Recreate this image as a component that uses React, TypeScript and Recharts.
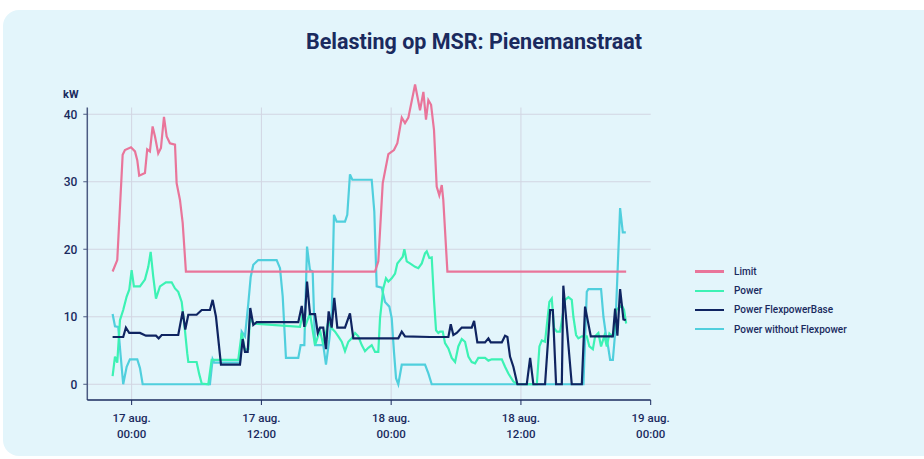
import React from 'react';
import { LineChart, Line, XAxis, YAxis, ReferenceLine } from 'recharts';

// time in hours from 17 aug. 00:00
const xTicks = [0, 12, 24, 36, 48];
const xTickDates = ['17 aug.', '17 aug.', '18 aug.', '18 aug.', '19 aug.'];
const xTickTimes = ['00:00', '12:00', '00:00', '12:00', '00:00'];
const yTicks = [0, 10, 20, 30, 40];

const limitT = [-1.76, -1.33, -0.83, -0.62, -0.06, 0.31, 0.52, 0.7, 1.23, 1.44, 1.69, 1.94, 2.16, 2.46, 2.71, 2.99, 3.24, 3.54, 4.01, 4.16, 4.47, 4.72, 5.02, 22.51, 22.81, 23.22, 23.74, 24.26, 24.57, 24.98, 25.28, 25.59, 26.21, 26.67, 26.98, 27.22, 27.44, 27.69, 27.96, 28.21, 28.45, 28.68, 28.82, 29.2, 45.73];
const limitKw = [16.7, 18.4, 34.0, 34.7, 35.1, 34.5, 33.2, 30.9, 31.3, 34.8, 34.5, 38.2, 36.7, 34.2, 35.0, 39.6, 36.7, 35.7, 35.5, 29.8, 27.3, 23.9, 16.7, 16.7, 18.2, 29.8, 34.1, 34.7, 35.7, 39.5, 38.7, 39.5, 44.4, 40.6, 43.3, 39.2, 42.1, 41.4, 37.7, 29.3, 28.0, 29.5, 27.3, 16.7, 16.7];

const powerT = [-1.76, -1.54, -1.33, -1.08, -0.78, -0.46, -0.22, 0, 0.21, 0.77, 1.23, 1.54, 1.76, 2.0, 2.25, 2.62, 3.17, 3.7, 4.01, 4.31, 4.63, 4.93, 5.14, 5.24, 6.01, 6.25, 6.48, 7.09, 7.4, 9.86, 10.18, 10.48, 10.79, 10.94, 11.25, 15.57, 15.82, 16.03, 16.49, 16.96, 17.42, 17.72, 18.19, 18.5, 18.81, 19.11, 19.43, 19.73, 20.04, 20.35, 20.66, 20.96, 21.28, 21.58, 21.89, 22.2, 22.51, 22.81, 22.97, 23.27, 23.52, 23.74, 24.05, 24.36, 24.57, 24.82, 25.07, 25.22, 25.44, 25.74, 26.21, 26.51, 26.83, 27.13, 27.29, 27.53, 27.75, 27.96, 28.15, 28.36, 28.52, 28.77, 28.98, 29.29, 29.6, 29.91, 30.21, 30.53, 30.83, 31.14, 31.45, 31.76, 32.06, 32.68, 32.99, 33.3, 34.23, 34.53, 34.84, 35.3, 35.67, 37.47, 37.71, 37.93, 38.23, 38.63, 38.85, 39.07, 39.32, 39.62, 40.08, 40.39, 40.7, 40.85, 41.1, 41.31, 41.63, 42.09, 42.33, 42.65, 42.86, 43.16, 43.41, 43.72, 43.94, 44.18, 44.4, 44.62, 44.8, 45.33, 45.54, 45.73];
const powerKw = [1.2, 4.1, 3.2, 9.5, 11.0, 13.0, 14.0, 16.9, 14.5, 14.5, 15.5, 17.4, 19.6, 15.9, 12.7, 14.5, 15.1, 15.1, 14.2, 13.7, 12.2, 8.0, 4.6, 3.3, 3.3, 1.5, 0.1, 0, 3.6, 3.6, 7.6, 5.1, 5.2, 10.0, 9.0, 8.5, 10.5, 8.5, 10.5, 5.8, 8.0, 5.8, 9.3, 8.3, 7.8, 7.1, 6.3, 4.9, 6.3, 6.8, 7.6, 7.1, 5.8, 4.9, 5.4, 5.8, 4.8, 4.8, 9.8, 14.2, 15.7, 15.2, 15.7, 16.4, 17.9, 18.4, 18.9, 20.0, 18.2, 17.9, 17.4, 17.2, 17.9, 19.4, 19.7, 18.7, 18.8, 12.5, 8.0, 7.6, 7.8, 7.8, 6.1, 5.3, 3.9, 3.3, 5.6, 6.7, 6.3, 4.1, 3.3, 3.1, 3.9, 3.9, 3.5, 3.7, 3.7, 2.6, 1.6, 0.4, 0, 0, 5.6, 6.5, 6.3, 12.2, 12.7, 8.3, 7.8, 7.8, 12.5, 12.9, 12.5, 10.0, 7.3, 6.8, 7.1, 7.1, 5.6, 5.2, 7.1, 7.6, 5.6, 7.2, 5.6, 7.5, 7.1, 8.0, 11.0, 11.7, 11.0, 9.0];

const baseT = [-1.76, -0.78, -0.53, -0.22, 0.77, 1.32, 2.25, 2.5, 2.78, 4.31, 4.72, 4.96, 5.24, 6.01, 6.48, 7.24, 7.49, 7.8, 8.26, 10.02, 10.27, 10.48, 10.73, 10.97, 11.25, 11.56, 15.41, 15.73, 15.97, 16.22, 16.49, 16.96, 17.21, 17.42, 17.72, 17.97, 18.22, 18.5, 18.74, 19.02, 19.73, 20.19, 20.5, 24.66, 24.98, 25.28, 27.59, 29.29, 29.51, 29.75, 30.06, 30.53, 31.45, 31.67, 31.97, 32.68, 32.99, 33.21, 34.23, 34.53, 34.75, 34.99, 35.3, 35.67, 36.54, 36.85, 37.15, 38.23, 38.7, 38.95, 39.25, 39.78, 39.92, 40.7, 41.63, 41.93, 42.46, 44.5, 44.71, 44.92, 45.17, 45.48, 45.7];
const baseKw = [7.0, 7.0, 8.4, 7.6, 7.6, 7.2, 7.2, 6.8, 7.3, 7.3, 10.8, 8.1, 10.3, 10.3, 11.0, 11.0, 12.5, 10.0, 2.9, 2.9, 6.7, 4.8, 4.8, 11.3, 8.8, 9.2, 9.2, 11.6, 8.5, 15.2, 10.4, 10.4, 7.6, 8.4, 8.4, 5.2, 10.8, 8.4, 12.8, 8.4, 8.4, 10.5, 6.8, 6.8, 7.8, 7.1, 7.0, 7.0, 8.9, 7.3, 7.6, 8.4, 8.4, 9.4, 6.2, 6.2, 6.8, 6.2, 6.2, 7.2, 7.0, 4.1, 2.6, 0, 0, 3.9, 0, 0, 11.0, 11.0, 0, 0, 14.6, 0, 0, 11.5, 7.1, 7.1, 11.2, 7.2, 14.1, 9.6, 9.5];

const withoutT = [-1.76, -1.54, -1.24, -1.02, -0.78, -0.46, -0.16, 0.52, 0.77, 1.02, 7.24, 7.49, 7.64, 10.02, 10.18, 10.48, 10.79, 11.01, 11.25, 11.71, 13.41, 13.72, 13.97, 14.27, 15.41, 15.63, 15.97, 16.22, 16.49, 16.74, 16.96, 17.72, 17.97, 18.28, 18.5, 18.71, 18.96, 19.73, 19.94, 20.19, 20.41, 22.2, 22.44, 22.66, 23.13, 23.43, 23.83, 24.05, 24.26, 24.45, 24.66, 24.98, 25.37, 27.13, 27.44, 27.75, 41.78, 42.09, 42.24, 43.41, 43.63, 43.88, 44.09, 44.25, 44.5, 44.71, 45.17, 45.42, 45.7];
const withoutKw = [10.4, 8.6, 8.5, 4.3, 0, 2.6, 3.7, 3.7, 2.4, 0, 0, 3.7, 3.2, 3.2, 7.8, 7.1, 12.0, 15.9, 17.7, 18.4, 18.4, 17.2, 13.0, 3.9, 3.9, 5.8, 5.8, 20.4, 16.9, 16.7, 5.8, 5.8, 2.9, 6.6, 10.0, 25.1, 24.1, 24.1, 25.1, 31.1, 30.3, 30.3, 25.6, 14.5, 14.3, 12.2, 11.5, 9.8, 4.8, 0.9, 0, 2.9, 2.9, 2.9, 1.6, 0, 0, 13.7, 14.1, 14.1, 10.0, 7.1, 5.3, 3.6, 3.6, 7.6, 26.1, 22.5, 22.5];

const toPoints = (ts: number[], vs: number[]) => ts.map((t, i) => ({ t, kw: vs[i] }));

const series = [
  { name: 'Power without Flexpower', color: '#50cfdd', data: toPoints(withoutT, withoutKw) },
  { name: 'Limit', color: '#e9759a', data: toPoints(limitT, limitKw) },
  { name: 'Power', color: '#3cf2b4', data: toPoints(powerT, powerKw) },
  { name: 'Power FlexpowerBase', color: '#0f2461', data: toPoints(baseT, baseKw) },
];
const legendOrder = ['Limit', 'Power', 'Power FlexpowerBase', 'Power without Flexpower'];

const NAVY = '#1a2a5e';
const GRID = '#d2d5e2';
const FONT = 'Roboto, "Noto Sans", sans-serif';
const X_MIN = -4.1;
const X_MAX = 48;
const Y_MIN = -2.33;
const GRID_TOP = 41;

const XTick = (props: any) => {
  const { x, y, payload } = props;
  const i = xTicks.indexOf(payload.value);
  return (
    <text x={x} y={y} textAnchor="middle" fill={NAVY} fontSize={11.5} fontWeight={500} fontFamily={FONT}>
      <tspan x={x} dy={15}>{xTickDates[i]}</tspan>
      <tspan x={x} dy={15.5}>{xTickTimes[i]}</tspan>
    </text>
  );
};

export default function App() {
  return (
    <div style={{ position: 'absolute', left: 0, top: 0, width: 924, height: 459, background: '#fff', overflow: 'hidden', fontFamily: FONT }}>
      <div style={{ position: 'absolute', left: 3, top: 10, width: 940, height: 446, borderRadius: 16, background: '#e3f5fb' }} />
      <div style={{ position: 'absolute', left: 0, top: 29, width: 948, textAlign: 'center', fontSize: 21.5, fontWeight: 700, color: NAVY }}>
        Belasting op MSR: Pienemanstraat
      </div>
      <div style={{ position: 'absolute', left: 63, top: 88, fontSize: 11, fontWeight: 700, color: NAVY }}>kW</div>
      <div style={{ position: 'absolute', left: 0, top: 0 }}>
        <LineChart width={924} height={459} margin={{ top: 80.5, right: 273.3, left: 0, bottom: 14 }}>
          {yTicks.map((v) => (
            <ReferenceLine key={'h' + v} y={v} stroke={GRID} strokeWidth={1} ifOverflow="visible" />
          ))}
          {xTicks.slice(0, 4).map((t) => (
            <ReferenceLine key={'v' + t} segment={[{ x: t, y: Y_MIN }, { x: t, y: GRID_TOP }]} stroke={GRID} strokeWidth={1} ifOverflow="visible" />
          ))}
          <ReferenceLine segment={[{ x: X_MIN, y: Y_MIN }, { x: X_MIN, y: GRID_TOP }]} stroke="#4b5b82" strokeWidth={1.5} ifOverflow="visible" />
          <XAxis
            type="number"
            dataKey="t"
            domain={[X_MIN, X_MAX]}
            ticks={xTicks}
            interval={0}
            allowDataOverflow
            height={45}
            axisLine={{ stroke: NAVY, strokeWidth: 1.5 }}
            tickLine={{ stroke: NAVY }}
            tickSize={5}
            tick={<XTick />}
          />
          <YAxis
            type="number"
            dataKey="kw"
            domain={[Y_MIN, 45]}
            ticks={yTicks}
            interval={0}
            width={87.3}
            axisLine={false}
            tickLine={{ stroke: '#4b5b82' }}
            tickSize={4}
            tickMargin={6}
            tick={{ fill: NAVY, fontSize: 12, fontWeight: 500, fontFamily: FONT }}
          />
          {series.map((s) => (
            <Line
              key={s.name}
              data={s.data}
              dataKey="kw"
              name={s.name}
              type="linear"
              stroke={s.color}
              strokeWidth={2.2}
              dot={false}
              activeDot={false}
              isAnimationActive={false}
            />
          ))}
        </LineChart>
      </div>
      <div style={{ position: 'absolute', left: 695, top: 262 }}>
        {legendOrder.map((name) => {
          const s = series.find((x) => x.name === name)!;
          return (
            <div key={name} style={{ display: 'flex', alignItems: 'center', height: 19.2 }}>
              <div style={{ width: 29, height: 2.5, background: s.color, marginRight: 10 }} />
              <span style={{ fontSize: 10, color: NAVY, fontWeight: 500 }}>{name}</span>
            </div>
          );
        })}
      </div>
    </div>
  );
}
